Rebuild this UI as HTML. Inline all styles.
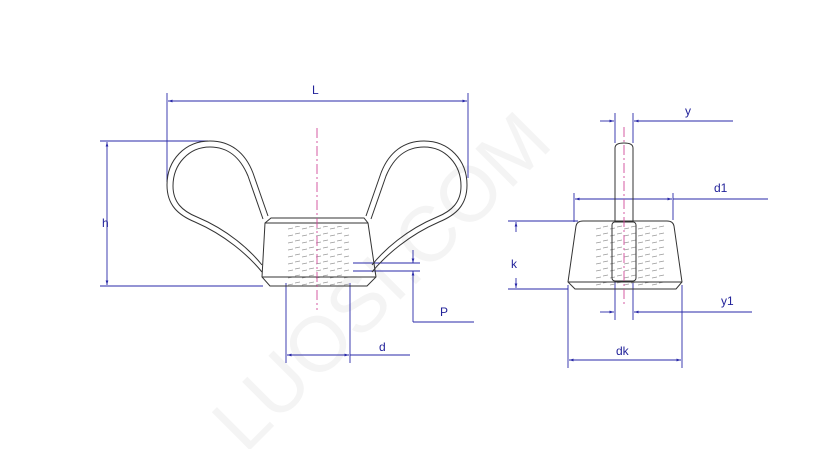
<!DOCTYPE html>
<html><head><meta charset="utf-8"><style>
html,body{margin:0;padding:0;background:#fff;width:837px;height:449px;overflow:hidden}
svg{display:block}
text{font-family:"Liberation Sans",sans-serif;font-size:12px;fill:#22229a}
</style></head><body>
<svg width="837" height="449" viewBox="0 0 837 449" xmlns="http://www.w3.org/2000/svg">
<defs>
<marker id="a" viewBox="0 0 10 10" refX="10" refY="5" markerWidth="7" markerHeight="5" orient="auto-start-reverse"><path d="M0,2 L10,5 L0,8 z" fill="#2a2aa8"/></marker>
<pattern id="th" width="14" height="7" patternUnits="userSpaceOnUse"><path d="M1,3 L6,2 M8,5 L13,4" stroke="#999" stroke-width="0.8"/></pattern>
</defs>
<text x="400" y="300" transform="rotate(-45 400 300)" text-anchor="middle" style="font-size:78px;fill:#f4f4f4;font-weight:normal">LUOSI.COM</text>
<g fill="none" stroke="#2a2aa8" stroke-width="0.9">
<line x1="167" y1="93" x2="167" y2="182"/><line x1="468" y1="93" x2="468" y2="178"/>
<line x1="168" y1="101" x2="467" y2="101" marker-start="url(#a)" marker-end="url(#a)"/>
<line x1="100" y1="141" x2="208" y2="141"/><line x1="100" y1="286" x2="263" y2="286"/>
<line x1="107" y1="142" x2="107" y2="285" marker-start="url(#a)" marker-end="url(#a)"/>
<line x1="353" y1="263" x2="420" y2="263"/><line x1="353" y1="271" x2="420" y2="271"/>
<line x1="413" y1="250" x2="413" y2="263" marker-end="url(#a)"/>
<line x1="413" y1="322" x2="413" y2="271" marker-end="url(#a)"/>
<line x1="413" y1="322" x2="474" y2="322"/>
<line x1="286" y1="283" x2="286" y2="363"/><line x1="350" y1="283" x2="350" y2="363"/>
<line x1="287" y1="355" x2="349" y2="355" marker-start="url(#a)" marker-end="url(#a)"/>
<line x1="350" y1="355" x2="410" y2="355"/>
<line x1="615" y1="113" x2="615" y2="143"/><line x1="633" y1="113" x2="633" y2="143"/>
<line x1="600" y1="121" x2="614" y2="121" marker-end="url(#a)"/>
<line x1="733" y1="121" x2="634" y2="121" marker-end="url(#a)"/>
<line x1="574" y1="193" x2="574" y2="222"/><line x1="673" y1="193" x2="673" y2="220"/>
<line x1="575" y1="199" x2="672" y2="199" marker-start="url(#a)" marker-end="url(#a)"/>
<line x1="673" y1="199" x2="768" y2="199"/>
<line x1="508" y1="221" x2="578" y2="221"/><line x1="508" y1="289" x2="568" y2="289"/>
<line x1="516" y1="232" x2="516" y2="222" marker-end="url(#a)"/>
<line x1="516" y1="278" x2="516" y2="288" marker-end="url(#a)"/>
<line x1="615" y1="282" x2="615" y2="320"/><line x1="633" y1="282" x2="633" y2="320"/>
<line x1="600" y1="312" x2="614" y2="312" marker-end="url(#a)"/>
<line x1="752" y1="312" x2="634" y2="312" marker-end="url(#a)"/>
<line x1="568" y1="285" x2="568" y2="368"/><line x1="682" y1="285" x2="682" y2="368"/>
<line x1="569" y1="360" x2="681" y2="360" marker-start="url(#a)" marker-end="url(#a)"/>
</g>
<text x="312" y="94">L</text><text x="102" y="227">h</text><text x="440" y="316">P</text><text x="379" y="351">d</text>
<text x="685" y="115">y</text><text x="714" y="192">d1</text><text x="511" y="268">k</text><text x="721" y="305">y1</text><text x="616" y="355">dk</text>
<rect x="286" y="226" width="64" height="60" fill="url(#th)"/>
<rect x="594" y="224" width="72" height="62" fill="url(#th)"/>
<g fill="none" stroke="#333" stroke-width="1">
<path d="M271,218 L364,218 L368,223 L376,277 L367,286 L270,286 L262,277 L265,223 Z"/>
<line x1="265" y1="223" x2="368" y2="223"/><line x1="262" y1="277" x2="376" y2="277"/>
<g id="w">
<path d="M268,216 L253,173 C245,152 230,141 210,141 C185,141 167,160 167,185 C167,205 178,215 195,222 C225,235 248,255 262,272"/>
<path d="M263,219 L248,176 C240,157 228,147 210,147 C189,147 173,164 173,186 C173,202 182,211 197,217 C228,230 250,250 262,265"/>
</g>
<use href="#w" transform="translate(634,0) scale(-1,1)"/>
<path d="M583,221 L667,221 Q673,221 674,226 L682,282 L676,289 L575,289 L568,282 L576,226 Q577,221 583,221 Z"/>
<line x1="568" y1="282" x2="682" y2="282"/>
<path d="M615,221 L615,148 Q615,143 624,143 Q633,143 633,148 L633,221"/>
<rect x="612" y="222" width="24" height="59" rx="3"/>
</g>
<g stroke="#d04a9a" stroke-width="0.9" stroke-dasharray="10,3,2,3">
<line x1="317" y1="128" x2="317" y2="310"/>
<line x1="624" y1="127" x2="624" y2="305"/>
</g>
</svg>
</body></html>
